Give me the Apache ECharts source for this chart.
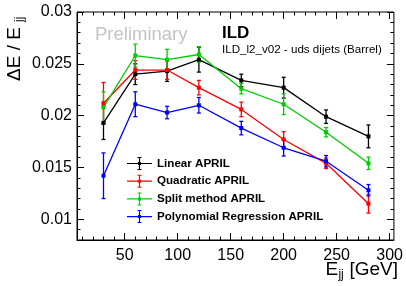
<!DOCTYPE html>
<html>
<head>
<meta charset="utf-8">
<script src="https://cdn.jsdelivr.net/npm/echarts@6/dist/echarts.min.js"></script>
<style>
  html, body { margin: 0; padding: 0; background: #fff; }
  #chart { width: 406px; height: 286px; }
</style>
</head>
<body>
<div id="chart"></div>
<script>
// jet energy (GeV)
var energies = [30, 60, 90, 120, 160, 200, 240, 280];

var linearVals = [0.0193, 0.0240, 0.0243, 0.0254, 0.0234, 0.0227, 0.0199, 0.0180];
var linearErrs = [0.0016, 0.0010, 0.0010, 0.0012, 0.0006, 0.0010, 0.00065, 0.0011];

var quadVals = [0.0212, 0.0244, 0.0244, 0.0227, 0.0206, 0.0177, 0.0154, 0.0115];
var quadErrs = [0.0020, 0.0009, 0.0009, 0.0007, 0.0007, 0.00075, 0.0005, 0.0009];

var splitVals = [0.0208, 0.0258, 0.0254, 0.0259, 0.0226, 0.0211, 0.0184, 0.0154];
var splitErrs = [0.0015, 0.0011, 0.0010, 0.00075, 0.0005, 0.0010, 0.00045, 0.0006];

var polyVals = [0.0142, 0.0211, 0.0203, 0.0210, 0.0188, 0.0169, 0.0156, 0.0128];
var polyErrs = [0.0022, 0.0012, 0.0006, 0.00075, 0.00065, 0.0008, 0.00055, 0.00055];

var seriesNames = ['Linear APRIL', 'Quadratic APRIL', 'Split method APRIL', 'Polynomial Regression APRIL'];
var seriesColors = ['#000000', '#ff0000', '#00cc00', '#0000ff'];

var xMajor = [50, 100, 150, 200, 250, 300];
var xMinor = [10, 20, 30, 40, 60, 70, 80, 90, 110, 120, 130, 140, 160, 170, 180, 190, 210, 220, 230, 240, 260, 270, 280, 290];
var yMajor = [0.01, 0.015, 0.02, 0.025, 0.03];
var yMinor = [0.008, 0.009, 0.011, 0.012, 0.013, 0.014, 0.016, 0.017, 0.018, 0.019, 0.021, 0.022, 0.023, 0.024, 0.026, 0.027, 0.028, 0.029];

var font = 'Liberation Sans, Arial, Helvetica, sans-serif';

var chart = echarts.init(document.getElementById('chart'));

function makePoints(vals, errs) {
  return energies.map(function (e, i) { return [e, vals[i], errs[i]]; });
}

function errorBars(color) {
  return function (params, api) {
    var x = api.value(0), y = api.value(1), err = api.value(2);
    var hi = api.coord([x, y + err]);
    var lo = api.coord([x, y - err]);
    var st = { stroke: color, lineWidth: 1.3 };
    return {
      type: 'group',
      children: [
        { type: 'line', shape: { x1: hi[0], y1: hi[1], x2: lo[0], y2: lo[1] }, style: st },
        { type: 'line', shape: { x1: hi[0] - 2, y1: hi[1], x2: hi[0] + 2, y2: hi[1] }, style: st },
        { type: 'line', shape: { x1: lo[0] - 2, y1: lo[1], x2: lo[0] + 2, y2: lo[1] }, style: st }
      ]
    };
  };
}

var allVals = [linearVals, quadVals, splitVals, polyVals];
var allErrs = [linearErrs, quadErrs, splitErrs, polyErrs];

var series = [];
for (var k = 0; k < 4; k++) {
  var pts = makePoints(allVals[k], allErrs[k]);
  series.push({
    name: seriesNames[k] + ' err',
    type: 'custom',
    renderItem: errorBars(seriesColors[k]),
    data: pts,
    encode: { x: 0, y: 1 },
    z: 3,
    silent: true
  });
  series.push({
    name: seriesNames[k],
    type: 'line',
    data: pts,
    symbol: 'rect',
    symbolSize: 4,
    color: seriesColors[k],
    lineStyle: { width: 1.3, color: seriesColors[k] },
    itemStyle: { color: seriesColors[k] },
    z: 4,
    animation: false
  });
}

var legendIcon = 'path://M0 5.9h25v1.2h-25Z M11.9 0h1.2v13h-1.2Z M10.5 0h4v1h-4Z M10.5 12h4v1h-4Z M11 5h3v3h-3Z';

// tick-only axis helpers (ROOT style ticks on all four sides)
function xTicks(pos, vals, len) {
  return {
    type: 'value', min: 5, max: 304, position: pos,
    axisLine: { show: false },
    axisTick: { show: true, inside: true, length: len, customValues: vals, lineStyle: { color: '#000' } },
    axisLabel: { show: false },
    splitLine: { show: false }
  };
}
function yTicks(pos, vals, len) {
  return {
    type: 'value', min: 0.008, max: 0.03, position: pos,
    axisLine: { show: false },
    axisTick: { show: true, inside: true, length: len, customValues: vals, lineStyle: { color: '#000' } },
    axisLabel: { show: false },
    splitLine: { show: false }
  };
}

var option = {
  animation: false,
  grid: { left: 77, right: 9, top: 12, bottom: 46, show: true, borderColor: '#000', borderWidth: 1 },
  legend: {
    data: seriesNames,
    orient: 'vertical',
    left: 127,
    top: 157,
    padding: 0,
    itemWidth: 25,
    itemHeight: 13,
    itemGap: 4.7,
    icon: legendIcon,
    textStyle: { fontFamily: font, fontWeight: 'bold', fontSize: 11.6, color: '#000' }
  },
  xAxis: [
    {
      type: 'value', min: 5, max: 304, position: 'bottom',
      axisLine: { lineStyle: { color: '#000', width: 1 } },
      axisTick: { inside: true, length: 7, customValues: xMajor, lineStyle: { color: '#000' } },
      axisLabel: { customValues: xMajor, fontFamily: font, fontSize: 16, color: '#000', margin: 8 },
      splitLine: { show: false }
    },
    xTicks('bottom', xMinor, 3.5),
    xTicks('top', xMajor, 7),
    xTicks('top', xMinor, 3.5)
  ],
  yAxis: [
    {
      type: 'value', min: 0.008, max: 0.03, position: 'left',
      axisLine: { show: true, lineStyle: { color: '#000', width: 1 } },
      axisTick: { show: true, inside: true, length: 7, customValues: yMajor, lineStyle: { color: '#000' } },
      axisLabel: { customValues: yMajor, fontFamily: font, fontSize: 16, color: '#000', margin: 5 },
      splitLine: { show: false }
    },
    yTicks('left', yMinor, 3.5),
    yTicks('right', yMajor, 7),
    yTicks('right', yMinor, 3.5)
  ],
  series: series,
  graphic: [
    {
      type: 'text', left: 95, top: 25, z: 1,
      style: { text: 'Preliminary', fontFamily: font, fontSize: 18.5, fill: '#c4c4c4' }
    },
    {
      type: 'text', left: 222, top: 25,
      style: { text: 'ILD', fontFamily: font, fontWeight: 'bold', fontSize: 17, fill: '#000' }
    },
    {
      type: 'text', left: 222, top: 44,
      style: { text: 'ILD_l2_v02 - uds dijets (Barrel)', fontFamily: font, fontSize: 11.6, fill: '#000' }
    },
    // x axis title
    {
      type: 'group', right: 8, top: 260,
      children: [
        { type: 'text', x: 0, y: 0, style: { text: 'E', fontFamily: font, fontSize: 19, fill: '#000' } },
        { type: 'text', x: 13, y: 9, style: { text: 'jj', fontFamily: font, fontSize: 12, fill: '#000' } },
        { type: 'text', x: 24, y: 0, style: { text: '[GeV]', fontFamily: font, fontSize: 19, fill: '#000' } }
      ]
    },
    // y axis title, rotated
    {
      type: 'group', x: 5, y: 81, rotation: Math.PI / 2,
      children: [
        { type: 'text', x: 0, y: 0, style: { text: '\u0394E / E', fontFamily: font, fontSize: 19, fill: '#000' } },
        { type: 'text', x: 59, y: 9, style: { text: 'jj', fontFamily: font, fontSize: 12, fill: '#000' } }
      ]
    }
  ]
};

option && chart.setOption(option);
</script>
</body>
</html>
